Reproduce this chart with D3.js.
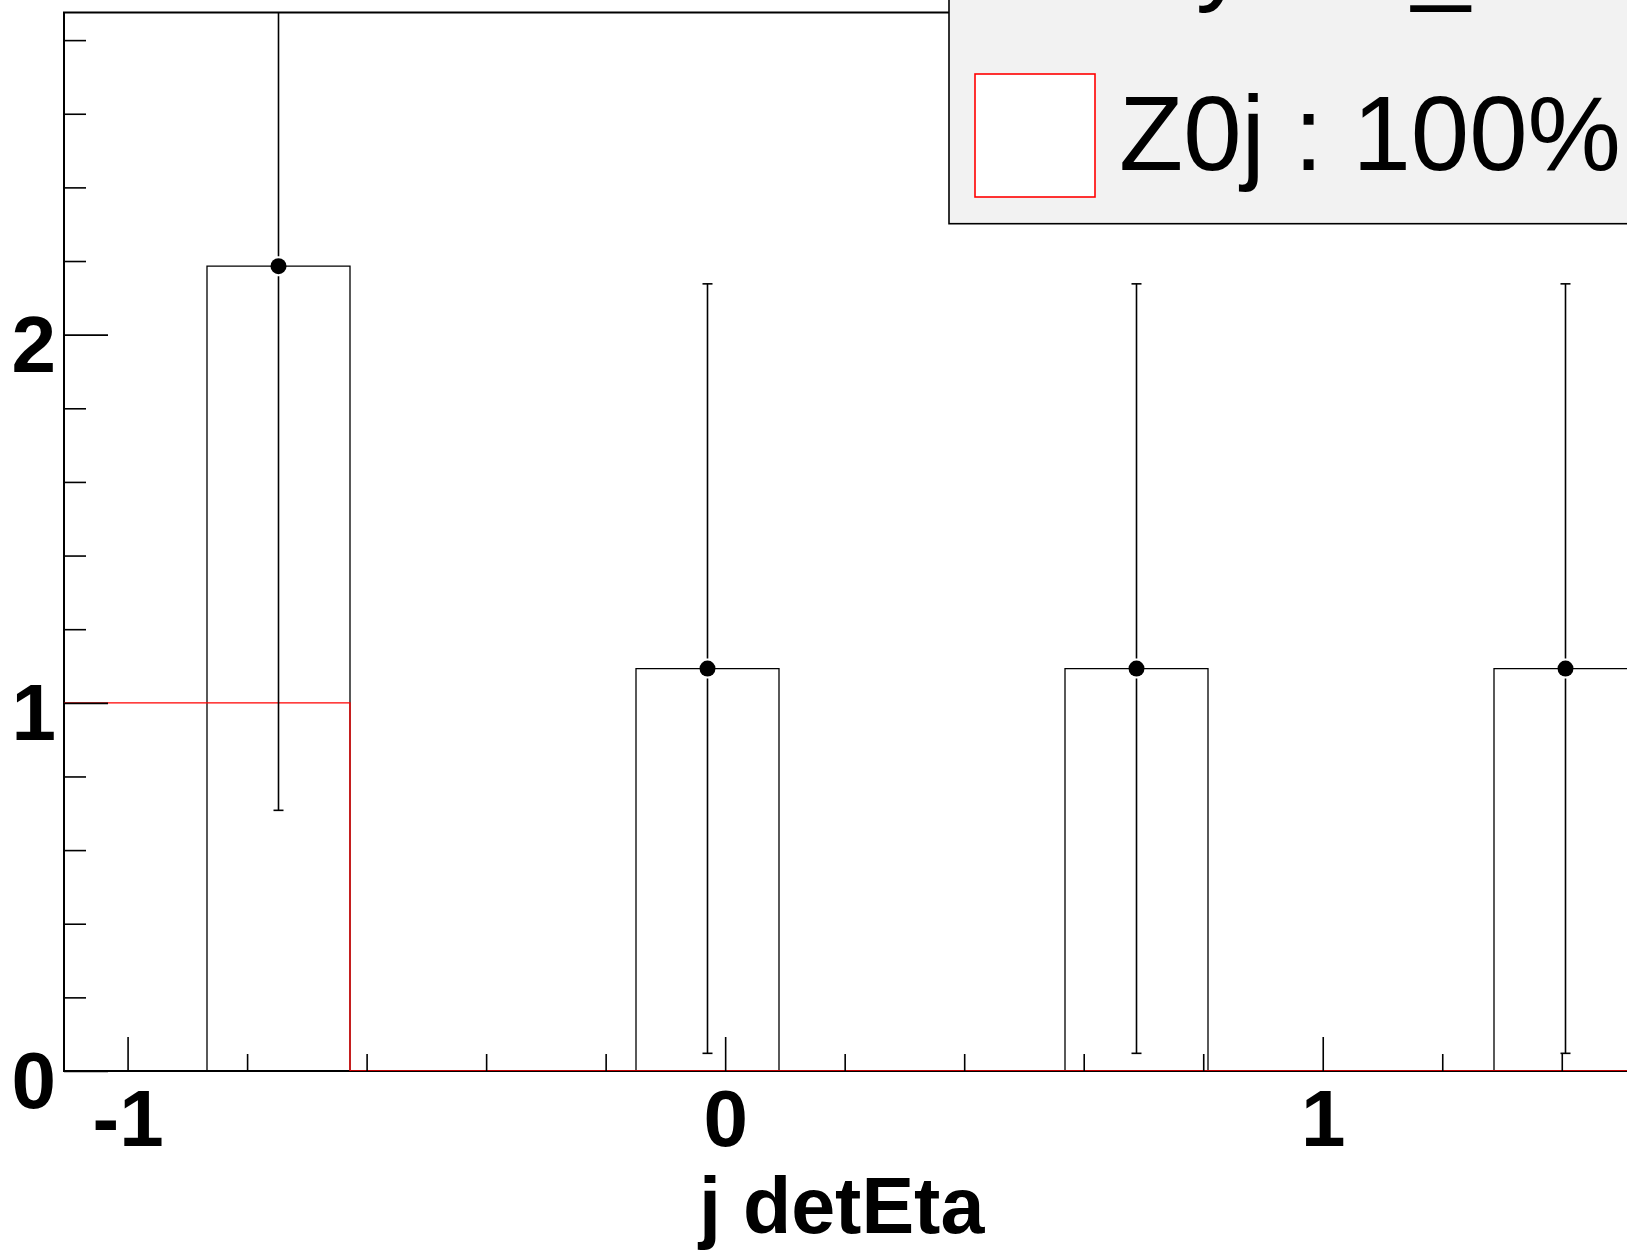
<!DOCTYPE html>
<html>
<head>
<meta charset="utf-8">
<script src="https://cdn.jsdelivr.net/npm/d3@7"></script>
<style>
  html, body { margin: 0; padding: 0; background: #ffffff; }
  svg { display: block; }
</style>
</head>
<body>
<div id="chart"></div>
<script>
// ---- data ----
const binEdges   = [-1.1064, -0.8671, -0.6278, -0.3885, -0.1492, 0.0901, 0.3294, 0.5687, 0.8080, 1.0473, 1.2866, 1.5259, 1.7652];
const dataValues = [0, 2.186, 0, 0, 1.093, 0, 0, 1.093, 0, 0, 1.093, 0];
const dataErrors = [0, 1.478, 0, 0, 1.045, 0, 0, 1.045, 0, 0, 1.045, 0];
const z0jValues  = [1, 1, 0, 0, 0, 0, 0, 0, 0, 0, 0, 0];
const xMajorTicks = [-1, 0, 1];
const xMinorTicks = [-0.8, -0.6, -0.4, -0.2, 0.2, 0.4, 0.6, 0.8, 1.2, 1.4, 1.6];
const yMajorTicks = [0, 1, 2];
const yMinorTicks = [0.2, 0.4, 0.6, 0.8, 1.2, 1.4, 1.6, 1.8, 2.2, 2.4, 2.6, 2.8];
const yDomain = [0, 2.875];
const xTitle = "j detEta";
const legendHeader = "Dyield_";
const legendLabels = ["Z0j : 100%"];

// ---- layout ----
const W = 1627, H = 1251;
const frame = { left: 64, top: 12.5, right: 1780, bottom: 1071 };

const svg = d3.select("#chart").append("svg")
  .attr("width", W).attr("height", H)
  .style("font-family", "'Liberation Sans', Arial, sans-serif");

svg.append("rect").attr("width", W).attr("height", H).attr("fill", "#fff");

const x = d3.scaleLinear()
  .domain([binEdges[0], binEdges[binEdges.length - 1]])
  .range([frame.left, frame.right]);
const y = d3.scaleLinear().domain(yDomain).range([frame.bottom, frame.top]);

svg.append("defs").append("clipPath").attr("id", "clip")
  .append("rect")
  .attr("x", frame.left).attr("y", frame.top)
  .attr("width", frame.right - frame.left).attr("height", frame.bottom - frame.top);

// frame
svg.append("rect")
  .attr("x", frame.left).attr("y", frame.top)
  .attr("width", frame.right - frame.left).attr("height", frame.bottom - frame.top)
  .attr("fill", "none").attr("stroke", "#000").attr("stroke-width", 2);

const plot = svg.append("g").attr("clip-path", "url(#clip)");

function stepPath(vals) {
  const p = d3.path();
  p.moveTo(x(binEdges[0]), y(vals[0]));
  vals.forEach((v, i) => {
    p.lineTo(x(binEdges[i]), y(v));
    p.lineTo(x(binEdges[i + 1]), y(v));
  });
  p.lineTo(x(binEdges[binEdges.length - 1]), y(0));
  return p.toString();
}

// black data histogram (outline)
plot.append("path").attr("d", stepPath(dataValues))
  .attr("fill", "none").attr("stroke", "#000").attr("stroke-width", 1.3);

// red Z0j histogram
plot.append("path").attr("d", stepPath(z0jValues))
  .attr("fill", "none").attr("stroke", "#ff0000").attr("stroke-width", 1.3);

// error bars + markers
const pts = dataValues.map((v, i) => ({ v, e: dataErrors[i], c: (binEdges[i] + binEdges[i + 1]) / 2 }))
  .filter(d => d.v > 0);
const gap = 10, cap = 5;
const eb = plot.append("g").attr("stroke", "#000").attr("stroke-width", 1.6);
pts.forEach(d => {
  const cx = x(d.c), cy = y(d.v), yt = y(d.v + d.e), yb = y(d.v - d.e);
  eb.append("line").attr("x1", cx).attr("x2", cx).attr("y1", yt).attr("y2", cy - gap);
  eb.append("line").attr("x1", cx).attr("x2", cx).attr("y1", cy + gap).attr("y2", yb);
  eb.append("line").attr("x1", cx - cap).attr("x2", cx + cap).attr("y1", yt).attr("y2", yt);
  eb.append("line").attr("x1", cx - cap).attr("x2", cx + cap).attr("y1", yb).attr("y2", yb);
});
plot.append("g").selectAll("circle").data(pts).join("circle")
  .attr("cx", d => x(d.c)).attr("cy", d => y(d.v)).attr("r", 8).attr("fill", "#000");

// axes (ticks drawn inward like ROOT)
const xAxisG = svg.append("g").attr("transform", `translate(0,${frame.bottom})`);
xAxisG.append("g").call(d3.axisBottom(x).tickValues(xMinorTicks).tickSize(-17).tickFormat(""));
xAxisG.append("g").call(d3.axisBottom(x).tickValues(xMajorTicks).tickSize(-34).tickPadding(18)
  .tickFormat(d => String(d)));
xAxisG.selectAll(".domain").remove();
xAxisG.selectAll("line").attr("stroke", "#000").attr("stroke-width", 1.6);
xAxisG.selectAll("text").attr("font-size", 80).attr("font-weight", "bold")
  .attr("font-family", "'Liberation Sans', Arial, sans-serif").attr("fill", "#000");

const yAxisG = svg.append("g").attr("transform", `translate(${frame.left},0)`);
yAxisG.append("g").call(d3.axisLeft(y).tickValues(yMinorTicks).tickSize(-22).tickFormat(""));
yAxisG.append("g").call(d3.axisLeft(y).tickValues(yMajorTicks).tickSize(-44).tickPadding(8)
  .tickFormat(d => String(d)));
yAxisG.selectAll(".domain").remove();
yAxisG.selectAll("line").attr("stroke", "#000").attr("stroke-width", 1.6);
yAxisG.selectAll("text").attr("font-size", 80).attr("font-weight", "bold").attr("dy", "0.46em")
  .attr("font-family", "'Liberation Sans', Arial, sans-serif").attr("fill", "#000");

// x axis title
svg.append("text").attr("x", 699).attr("y", 1233)
  .attr("font-size", 79).attr("font-weight", "bold")
  .text(xTitle);

// legend
const leg = svg.append("g");
leg.append("rect").attr("x", 949).attr("y", -20).attr("width", 760).attr("height", 243.7)
  .attr("fill", "#f2f2f2").attr("stroke", "#000").attr("stroke-width", 1.6);
leg.append("text").attr("x", 1120).attr("y", -9).attr("font-size", 105).text(legendHeader);
legendLabels.forEach((lab, i) => {
  leg.append("rect").attr("x", 975).attr("y", 74).attr("width", 120).attr("height", 123)
    .attr("fill", "#fff").attr("stroke", "#ff0000").attr("stroke-width", 1.6);
  leg.append("text").attr("x", 1119).attr("y", 170).attr("font-size", 105).text(lab);
});
</script>
</body>
</html>
